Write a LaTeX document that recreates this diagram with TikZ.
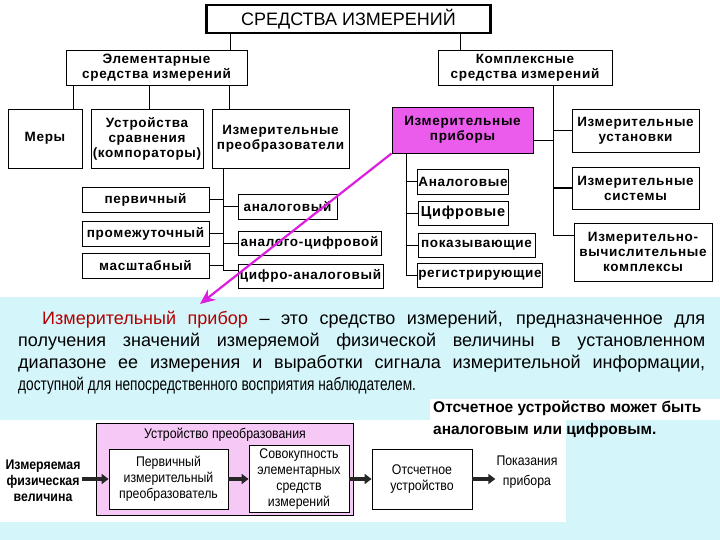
\documentclass[tikz,border=0pt]{standalone}
\usepackage{fontspec}
\setmainfont{Liberation Sans}
\newfontfamily\treefont[LetterSpace=5]{Liberation Sans}
\newfontfamily\narrowfont[FakeStretch=0.88]{Liberation Sans}
\newfontfamily\condfont[FakeStretch=0.76]{Liberation Sans}
\usetikzlibrary{arrows.meta}
\definecolor{priborfill}{RGB}{236,92,236}
\definecolor{convfill}{RGB}{246,200,246}
\definecolor{cyanbg}{RGB}{212,246,250}
\definecolor{defred}{RGB}{178,0,0}
\definecolor{pointer}{RGB}{222,30,222}
\begin{document}
\begin{tikzpicture}[>=Stealth, x=1pt, y=-1pt]

\tikzstyle{box}=[draw, line width=0.9pt, align=center, inner sep=1pt, font=\treefont\bfseries\fontsize{13.5}{15}\selectfont]
\tikzstyle{link}=[line width=0.8pt]
\tikzstyle{blk}=[draw, fill=white, line width=0.8pt, align=center, font=\narrowfont\fontsize{14}{16}\selectfont]
\tikzstyle{flow}=[-{Triangle[length=7pt,width=10pt]}, line width=3.5pt, draw=black!85]

\useasboundingbox (0,0) rectangle (720,540);

% Backgrounds
\fill[white] (0,0) rectangle (720,297);
\fill[cyanbg] (0,297) rectangle (720,540);
\fill[white] (430,399) rectangle (720,420);
\fill[white] (0,420) rectangle (566,522);

% Top: title
\node[draw, line width=2.6pt, minimum width=284, minimum height=28, font=\fontsize{18}{20}\selectfont] (title) at (348.5,19) {СРЕДСТВА ИЗМЕРЕНИЙ};

% Level 2
\node[box, minimum width=181, minimum height=35] (elem) at (156.5,67.5) {Элементарные\\средства измерений};
\node[box, minimum width=174, minimum height=35] (kompl) at (525,67.5) {Комплексные\\средства измерений};

\coordinate (t1) at ([xshift=73.5pt]elem.north);
\coordinate (t2) at ([xshift=-65pt]kompl.north);
\draw[link] (t1) -- (t1 |- title.south);
\draw[link] (t2) -- (t2 |- title.south);

% Left: elementary means
\node[box, minimum width=74, minimum height=59] (mery) at (45,138.5) {Меры};
\node[box, minimum width=112, minimum height=59] (sravn) at (147,138.5) {Устройства\\сравнения\\(компораторы)};
\node[box, minimum width=137, minimum height=59] (preobr) at (280.5,138.5) {Измерительные\\преобразователи};

\coordinate (m1) at ([xshift=28pt]mery.north);
\coordinate (m2) at ([xshift=2pt]sravn.north);
\coordinate (m3) at ([xshift=-51.5pt]preobr.north);
\draw[link] (m1) -- (m1 |- elem.south);
\draw[link] (m2) -- (m2 |- elem.south);
\draw[link] (m3) -- (m3 |- elem.south);

% Converters: kinds
\node[box, minimum width=127, minimum height=25] (pervich) at (145.5,199.5) {первичный};
\node[box, minimum width=127, minimum height=25] (promezh) at (145.5,233.5) {промежуточный};
\node[box, minimum width=127, minimum height=25] (masshtab) at (145.5,265.5) {масштабный};
\node[box, minimum width=99, minimum height=25] (analogovyj) at (287.5,206.5) {аналоговый};
\node[box, minimum width=143, minimum height=24] (acp) at (309.5,243) {аналого-цифровой};
\node[box, minimum width=145, minimum height=24] (cap) at (310.5,276) {цифро-аналоговый};

\coordinate (pv) at ([xshift=-57.5pt]preobr.south);
\draw[link] (pv) |- ([yshift=6pt]cap.west);
\draw[link] (pv |- analogovyj.west) -- (analogovyj.west);
\draw[link] (pv |- acp.west) -- (acp.west);
\draw[link] (pervich.east) -- (pervich.east -| pv);
\draw[link] (promezh.east) -- (promezh.east -| pv);
\draw[link] (masshtab.east) -- (masshtab.east -| pv);

% Right: complex means
\node[box, fill=priborfill, minimum width=141, minimum height=46] (pribory) at (462.5,130) {Измерительные\\приборы};
\node[box, minimum width=127, minimum height=43] (ustanov) at (635.5,130.5) {Измерительные\\установки};
\node[box, minimum width=127, minimum height=42] (sistemy) at (635.5,188) {Измерительные\\системы};
\node[box, minimum width=138, minimum height=58] (ivk) at (643,252) {Измерительно-\\вычислительные\\комплексы};

\coordinate (kv) at ([xshift=28pt]kompl.south);
\draw[link] (kv) |- ([yshift=17pt]ivk.west);
\draw[link] (kv |- ustanov.west) -- (ustanov.west);
\draw[link, line width=1.6pt] (kv |- sistemy.west) -- (sistemy.west);
\draw[link] ([yshift=-10pt]pribory.east) -- ([yshift=-10pt]pribory.east -| kv);

% Instruments: kinds
\node[box, minimum width=90, minimum height=25] (analog) at (463,181.5) {Аналоговые};
\node[box, minimum width=90, minimum height=24, font=\treefont\bfseries\fontsize{14.5}{16}\selectfont] (cifr) at (463,213) {Цифровые};
\node[box, minimum width=117, minimum height=24] (pokaz) at (476.5,245) {показывающие};
\node[box, minimum width=124, minimum height=24] (registr) at (480,275) {регистрирующие};

\coordinate (pd) at ([xshift=-56.5pt]pribory.south);
\draw[link] (pd) |- (registr.west);
\draw[link] (pd |- analog.west) -- (analog.west);
\draw[link] (pd |- cifr.west) -- (cifr.west);
\draw[link] (pd |- pokaz.west) -- (pokaz.west);

% Pointer to definition
\coordinate (tip) at (200,304);
\draw[draw=pointer, line width=2.2pt, -{Stealth[length=15pt,width=13pt]}] (pribory.south west) -- (tip);

% Definition text
\node[anchor=north west, inner sep=0pt, text width=687, align=justify, font=\fontsize{18}{22}\selectfont] (defin) at (18,311) {\hspace*{24pt}\textcolor{defred}{Измерительный прибор} – это средство измерений, предназначенное для\linebreak получения значений измеряемой физической величины в установленном\linebreak диапазоне ее измерения и выработки сигнала измерительной информации,\linebreak {\condfont доступной для непосредственного восприятия наблюдателем.}};

\node[anchor=north west, inner sep=0pt, align=left, font=\bfseries\fontsize{15.5}{22}\selectfont] (note) at (433,401) {Отсчетное устройство может быть\\аналоговым или цифровым.};

% Bottom: structure of an instrument
\node[draw, fill=convfill, line width=0.9pt, minimum width=257, minimum height=92] (conv) at (225,469) {};
\node[font=\narrowfont\fontsize{14}{16}\selectfont] (convlabel) at (225,435) {Устройство преобразования};
\node[blk, minimum width=119, minimum height=60] (perv) at (168.5,479) {Первичный\\измерительный\\преобразователь};
\node[blk, minimum width=100, minimum height=60] (sovok) at (299,479) {Совокупность\\элементарных\\средств\\измерений};
\node[blk, minimum width=100, minimum height=60] (otsch) at (422,479) {Отсчетное\\устройство};
\node[align=center, inner sep=1pt, font=\narrowfont\bfseries\fontsize{14}{16}\selectfont] (inp) at (43,481) {Измеряемая\\физическая\\величина};
\node[align=center, inner sep=1pt, font=\narrowfont\fontsize{14}{20}\selectfont] (outp) at (527,472) {Показания\\прибора};

\draw[flow] (inp.east |- perv.west) -- (perv.west);
\draw[flow] (perv.east) -- (sovok.west);
\draw[flow] (sovok.east) -- (otsch.west);
\draw[flow] (otsch.east) -- (otsch.east -| outp.west);

\end{tikzpicture}
\end{document}
